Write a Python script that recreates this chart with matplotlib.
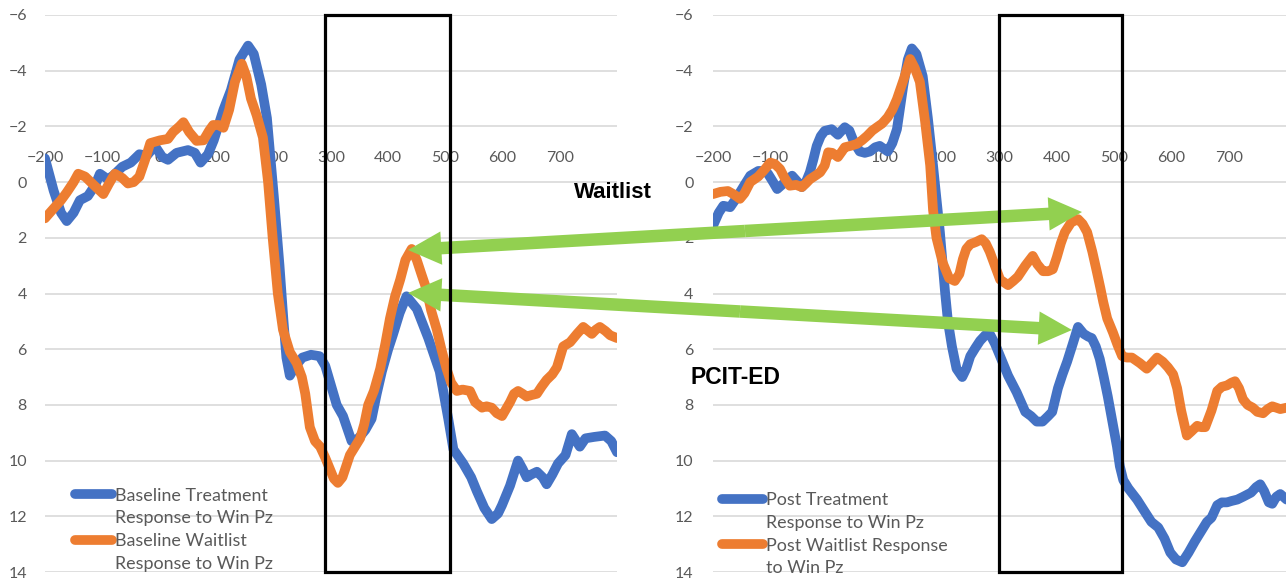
import matplotlib.pyplot as plt
from matplotlib.lines import Line2D
from matplotlib.patches import Rectangle, FancyArrowPatch

plt.rcParams['font.family'] = ['Lato', 'DejaVu Sans']

BLUE = '#4472C4'
ORANGE = '#ED7D31'
GREEN = '#92D050'
GRAY = '#595959'

# baseline (left panel)
base_treat_t = [-200, -185, -172, -162, -150, -139, -125, -112, -104, -90, -80, -65, -50, -35, -22, -8,
                5, 15, 30, 50, 62, 72, 85, 95, 112, 125, 140, 155, 165, 178, 188, 200, 210, 217,
                222, 228, 238, 250, 265, 280, 290, 300, 310, 321, 336, 348, 360, 371, 380, 389,
                400, 408, 420, 432, 450, 470, 490, 505, 514, 531, 545, 555, 568, 581, 592, 599,
                613, 627, 635, 642, 650, 660, 670, 677, 687, 697, 710, 721, 735, 745, 760, 779,
                790, 800]
base_treat_v = [-0.85, 0.3, 1.1, 1.4, 1.1, 0.65, 0.5, 0.1, -0.3, -0.1, -0.25, -0.55, -0.7, -1.0, -0.95, -1.3,
                -0.9, -0.8, -1.05, -1.15, -1.05, -0.7, -1.0, -1.5, -2.6, -3.3, -4.4, -4.9, -4.6, -3.5,
                -2.3, 0.5, 3.0, 5.0, 6.3, 6.95, 6.6, 6.3, 6.2, 6.25, 6.6, 7.3, 8.0, 8.4, 9.3, 9.2, 8.9,
                8.5, 7.6, 6.8, 6.0, 5.5, 4.7, 4.1, 4.55, 5.6, 6.8, 8.5, 9.6, 10.1, 10.6, 11.1, 11.7,
                12.1, 11.9, 11.6, 10.9, 10.0, 10.3, 10.6, 10.5, 10.4, 10.6, 10.85, 10.5, 10.1, 9.8,
                9.05, 9.5, 9.2, 9.15, 9.1, 9.3, 9.7]

base_wait_t = [-200, -185, -172, -162, -150, -142, -130, -115, -98, -88, -78, -65, -55, -45, -35, -25,
               -16, 1, 15, 24, 35, 42, 52, 65, 77, 87, 94, 103, 112, 122, 132, 144, 152, 160, 170,
               181, 190, 198, 207, 216, 228, 240, 249, 255, 263, 272, 281, 290, 298, 305, 312, 320,
               333, 351, 358, 365, 375, 386, 395, 403, 412, 421, 430, 441, 450, 458, 467, 475, 485,
               493, 502, 510, 520, 530, 543, 552, 564, 572, 581, 590, 599, 606, 613, 620, 627, 635,
               642, 650, 660, 668, 677, 687, 695, 706, 718, 730, 741, 750, 756, 763, 770, 780, 788,
               800]
base_wait_v = [1.3, 0.95, 0.65, 0.37, 0.0, -0.3, -0.2, 0.1, 0.43, 0.05, -0.3, -0.15, 0.05, 0.0, -0.2, -0.8,
               -1.4, -1.5, -1.55, -1.8, -2.0, -2.15, -1.8, -1.48, -1.5, -1.85, -2.05, -2.05, -1.95, -2.6,
               -3.6, -4.25, -3.8, -3.0, -2.4, -1.6, 0.0, 2.0, 4.0, 5.3, 6.1, 6.5, 7.0, 7.6, 8.8, 9.3,
               9.5, 9.9, 10.3, 10.65, 10.8, 10.6, 9.8, 9.2, 8.7, 8.0, 7.5, 6.7, 5.8, 4.9, 4.1, 3.5,
               2.8, 2.4, 2.8, 3.3, 3.85, 4.6, 5.3, 6.0, 6.7, 7.2, 7.5, 7.45, 7.5, 7.9, 8.1, 8.05, 8.1,
               8.3, 8.4, 8.15, 7.9, 7.6, 7.5, 7.6, 7.7, 7.65, 7.6, 7.35, 7.1, 6.9, 6.65, 5.9, 5.75,
               5.45, 5.2, 5.35, 5.45, 5.3, 5.2, 5.35, 5.5, 5.6]

# post (right panel)
post_treat_t = [-200, -190, -182, -170, -160, -153, -145, -135, -121, -112, -104, -95, -88, -77, -62, -52,
                -45, -38, -31, -25, -19, -12, -5, 7, 18, 30, 38, 44, 50, 56, 65, 74, 83, 91, 98, 105,
                113, 121, 132, 140, 147, 155, 166, 175, 184, 190, 196, 205, 210, 217, 225, 235, 242,
                249, 258, 266, 275, 283, 292, 301, 315, 330, 345, 355, 365, 375, 385, 392, 402, 410,
                418, 428, 437, 447, 455, 461, 468, 475, 482, 489, 497, 505, 510, 516, 525, 540, 554,
                565, 577, 588, 598, 608, 619, 630, 641, 650, 662, 670, 680, 688, 697, 705, 715, 725,
                739, 748, 755, 762, 770, 776, 783, 790, 801]
post_treat_v = [1.57, 1.1, 0.85, 0.9, 0.6, 0.37, 0.1, -0.23, -0.4, -0.4, -0.3, 0.0, 0.25, 0.05, -0.23, 0.0,
                0.18, 0.0, -0.35, -0.8, -1.3, -1.65, -1.84, -1.9, -1.7, -1.97, -1.85, -1.54, -1.3, -1.1,
                -1.05, -1.1, -1.25, -1.3, -1.2, -1.1, -1.4, -1.9, -3.45, -4.4, -4.8, -4.6, -3.8, -2.3,
                -0.6, 0.6, 1.8, 3.95, 5.0, 5.9, 6.7, 7.0, 6.7, 6.25, 5.95, 5.7, 5.5, 5.45, 5.8, 6.25,
                6.95, 7.55, 8.25, 8.4, 8.6, 8.6, 8.4, 8.25, 7.4, 6.9, 6.45, 5.8, 5.2, 5.45, 5.55, 5.6,
                5.9, 6.35, 7.0, 7.7, 8.6, 9.5, 10.2, 10.7, 11.0, 11.4, 11.85, 12.2, 12.4, 12.8, 13.3,
                13.55, 13.65, 13.3, 12.9, 12.6, 12.2, 12.05, 11.6, 11.5, 11.5, 11.45, 11.4, 11.3, 11.15,
                10.95, 10.85, 11.1, 11.5, 11.55, 11.3, 11.2, 11.4]

post_wait_t = [-200, -187, -174, -163, -153, -145, -135, -121, -110, -100, -92, -83, -75, -66, -55, -45,
               -38, -31, -20, -13, -5, 1, 8, 18, 25, 30, 40, 51, 60, 69, 78, 86, 95, 105, 113, 121,
               133, 144, 152, 161, 170, 179, 184, 190, 201, 212, 222, 230, 236, 242, 249, 259, 269,
               276, 283, 292, 301, 315, 324, 332, 345, 358, 366, 376, 385, 393, 400, 407, 414, 425,
               437, 445, 453, 462, 470, 476, 481, 488, 498, 506, 514, 522, 531, 545, 557, 566, 575,
               585, 594, 603, 610, 617, 627, 635, 645, 652, 659, 670, 680, 688, 697, 705, 711, 718,
               725, 733, 742, 750, 760, 768, 776, 783, 790, 801]
post_wait_v = [0.43, 0.35, 0.32, 0.45, 0.6, 0.4, 0.0, -0.2, -0.45, -0.7, -0.65, -0.47, -0.15, 0.13, 0.1,
               0.18, 0.05, -0.1, -0.25, -0.35, -0.6, -1.07, -1.05, -0.9, -1.1, -1.25, -1.3, -1.37, -1.5,
               -1.66, -1.85, -1.97, -2.1, -2.33, -2.6, -2.98, -3.7, -4.42, -4.1, -3.6, -2.2, -0.6, 1.0,
               2.0, 2.9, 3.45, 3.55, 3.3, 2.77, 2.4, 2.23, 2.15, 2.05, 2.2, 2.5, 3.0, 3.5, 3.7, 3.55,
               3.4, 3.0, 2.65, 2.95, 3.2, 3.2, 3.13, 2.7, 2.2, 1.8, 1.45, 1.33, 1.5, 1.8, 2.5, 3.23,
               3.8, 4.3, 4.9, 5.4, 5.85, 6.25, 6.3, 6.3, 6.5, 6.7, 6.5, 6.3, 6.45, 6.65, 6.9, 7.4, 8.2,
               9.1, 8.95, 8.75, 8.8, 8.8, 8.2, 7.5, 7.35, 7.3, 7.2, 7.15, 7.4, 7.8, 8.0, 8.1, 8.25, 8.3,
               8.15, 8.05, 8.1, 8.15, 8.1]

x_ticks = [-200, -100, 0, 100, 200, 300, 400, 500, 600, 700]
y_ticks = [-6, -4, -2, 0, 2, 4, 6, 8, 10, 12, 14]

base_labels = ['Baseline Treatment', 'Response to Win Pz', 'Baseline Waitlist', 'Response to Win Pz']
post_labels = ['Post Treatment', 'Response to Win Pz', 'Post Waitlist Response', 'to Win Pz']

FS = 11.5
LFS = 12.9
LW = 7


def style_axes(ax, ypad):
    ax.set_xlim(-200, 800)
    ax.set_ylim(14, -6)
    ax.set_yticks(y_ticks)
    ax.set_xticks(x_ticks)
    for s in ax.spines.values():
        s.set_visible(False)
    ax.spines['top'].set_position(('data', 0))
    ax.xaxis.set_ticks_position('top')
    ax.tick_params(axis='x', length=0, pad=12, labelsize=FS, labelcolor=GRAY)
    ax.tick_params(axis='y', length=0, pad=ypad, labelsize=FS, labelcolor=GRAY)
    ax.yaxis.grid(True, color='#D9D9D9', lw=1.2)
    ax.set_axisbelow(True)


def legend(ax, labels, anchor, hlen):
    h = [Line2D([], [], color=BLUE, lw=LW, solid_capstyle='round'),
         Line2D([], [], color='none'),
         Line2D([], [], color=ORANGE, lw=LW, solid_capstyle='round'),
         Line2D([], [], color='none')]
    ax.legend(h, labels, loc='lower left', bbox_to_anchor=anchor, frameon=False,
              fontsize=LFS, labelcolor=GRAY, handlelength=hlen, handletextpad=0.15,
              labelspacing=0.38, borderpad=0, borderaxespad=0)


fig = plt.figure(figsize=(12.88, 5.8), dpi=100)
ax1 = fig.add_axes([45 / 1288, 8 / 580, 572 / 1288, 557 / 580])
ax2 = fig.add_axes([713 / 1288, 8 / 580, 573 / 1288, 557 / 580])

kw = dict(lw=LW, solid_capstyle='round', solid_joinstyle='round')
ax1.plot(base_treat_t, base_treat_v, color=BLUE, **kw)
ax1.plot(base_wait_t, base_wait_v, color=ORANGE, **kw)
ax2.plot(post_treat_t, post_treat_v, color=BLUE, **kw)
ax2.plot(post_wait_t, post_wait_v, color=ORANGE, **kw)

style_axes(ax1, 13)
style_axes(ax2, 14)
legend(ax1, base_labels, (0.052, 0.0), 2.1)
legend(ax2, post_labels, (0.016, -0.008), 2.3)

# time windows (drawn on top of everything)
for ax, x0, x1 in [(ax1, 290, 508), (ax2, 299, 514)]:
    r = Rectangle((x0, -6), x1 - x0, 20, fill=False, ec='black', lw=2.3,
                  transform=ax.transData, zorder=5)
    fig.add_artist(r)

# comparison arrows
arrows = [((408, 250), (1082, 212)), ((408, 293), (1072, 330))]
for a, b in arrows:
    pa = (a[0] / 1288, 1 - a[1] / 580)
    pb = (b[0] / 1288, 1 - b[1] / 580)
    mid = ((pa[0] + pb[0]) / 2, (pa[1] + pb[1]) / 2)
    for end in (pa, pb):
        fig.add_artist(FancyArrowPatch(mid, end, transform=fig.transFigure,
                                       arrowstyle='simple,head_length=24,head_width=24,tail_width=9',
                                       mutation_scale=1, shrinkA=0, shrinkB=0,
                                       color=GREEN, lw=0, zorder=3))

fig.text(613 / 1288, 1 - 193 / 580, 'Waitlist', ha='center', va='center', fontsize=16,
         fontweight='bold', family=['Liberation Sans', 'DejaVu Sans'])
fig.text(690 / 1288, 1 - 377 / 580, 'PCIT-ED', ha='left', va='center', fontsize=16.5,
         fontweight='bold', family=['Liberation Sans', 'DejaVu Sans'])

fig.savefig('out.png', dpi=100)
